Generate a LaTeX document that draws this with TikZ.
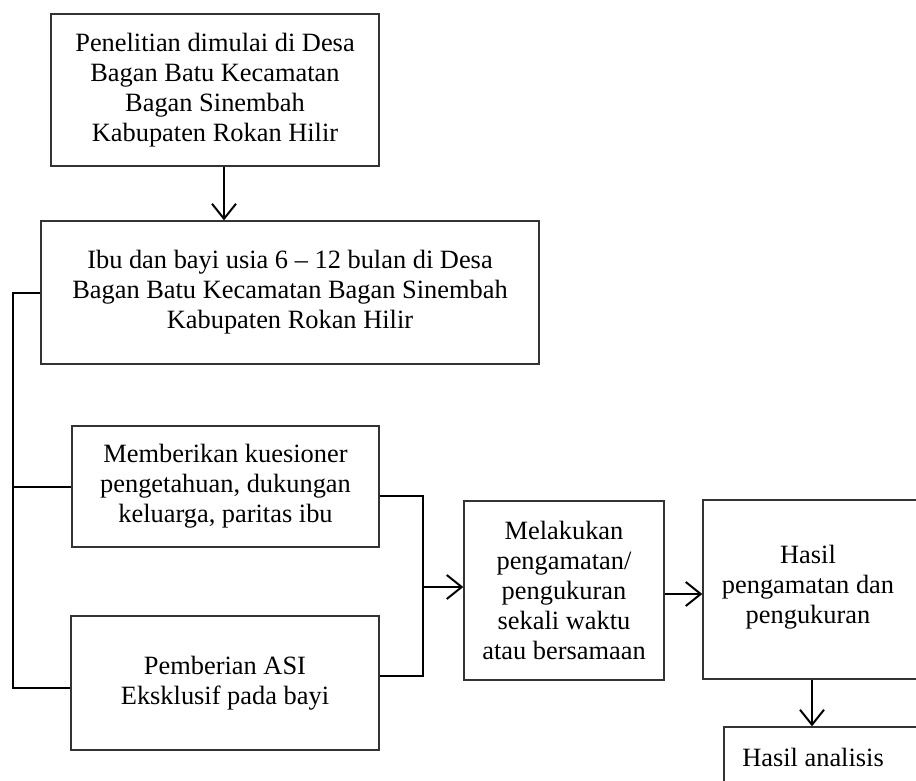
\documentclass[tikz,border=0pt]{standalone}
\usepackage{fontspec}
\setmainfont{Liberation Serif}
\usetikzlibrary{arrows.meta}
\begin{document}
\begin{tikzpicture}[x=1pt,y=-1pt,
  box/.style={draw=black!80,line width=1.3pt,inner sep=0pt,align=center,
    font=\fontsize{26.4}{30}\selectfont},
  txt/.style={inner sep=0pt,align=center,font=\fontsize{26.4}{30}\selectfont},
  conn/.style={draw=black,line width=2pt},
  arr/.style={conn,-{Straight Barb[length=15pt,width=24pt,line width=2pt]}}]
\useasboundingbox (0,0) rectangle (916,781);
\clip (0,0) rectangle (916,781);
\node[box,minimum width=328pt,minimum height=152pt] (b1) at (215,90)
  {Penelitian dimulai di Desa\\Bagan Batu Kecamatan\\Bagan Sinembah\\Kabupaten Rokan Hilir};
\node[box,minimum width=498pt,minimum height=143pt] (b2) at (290,292.5)
  {Ibu dan bayi usia 6 -- 12 bulan di Desa\\Bagan Batu Kecamatan Bagan Sinembah\\Kabupaten Rokan Hilir};
\node[box,minimum width=307pt,minimum height=121pt] (b3) at (225.5,486.5)
  {Memberikan kuesioner\\pengetahuan, dukungan\\keluarga, paritas ibu};
\node[box,minimum width=308pt,minimum height=134pt] (b4) at (225,683)
  {Pemberian ASI\\Eksklusif pada bayi};
\node[box,minimum width=200pt,minimum height=179pt] (b5) at (564,590.5)
  {Melakukan\\pengamatan/\\pengukuran\\sekali waktu\\atau bersamaan};
\node[box,minimum width=217pt,minimum height=179pt] (b6) at (811.5,589.5) {};
\node[txt] (t6) at (808,587) {Hasil\\pengamatan dan\\pengukuran};
\node[box,minimum width=195pt,minimum height=70pt] (b7) at (821.5,762) {};
\node[txt] (t7) at (813,757) {Hasil analisis};
\coordinate (lx) at (13,0);
\coordinate (rx) at (423,0);
% b1 -> b2
\draw[arr] ([xshift=9pt]b1.south) -- ([xshift=9pt]b1.south |- b2.north);
% left bracket
\draw[conn] (b2.west) -- (b2.west -| lx) -- ([yshift=-5pt]b4.west -| lx) -- ([yshift=-5pt]b4.west);
\draw[conn] (b3.west -| lx) -- (b3.west);
% right bracket
\draw[conn] ([yshift=-9.5pt]b3.east) -- ([yshift=-9.5pt]b3.east -| rx) -- ([yshift=7pt]b4.east -| rx) -- ([yshift=7pt]b4.east);
\draw[arr] ([yshift=3.5pt]b5.west -| rx) -- ([yshift=3.5pt]b5.west);
% b5 -> b6
\draw[arr] ([yshift=-3.5pt]b5.east) -- ([yshift=-3.5pt]b5.east -| b6.west);
% b6 -> b7
\draw[arr] (b6.south -| 812,0) -- (b7.north -| 812,0);
\end{tikzpicture}
\end{document}
